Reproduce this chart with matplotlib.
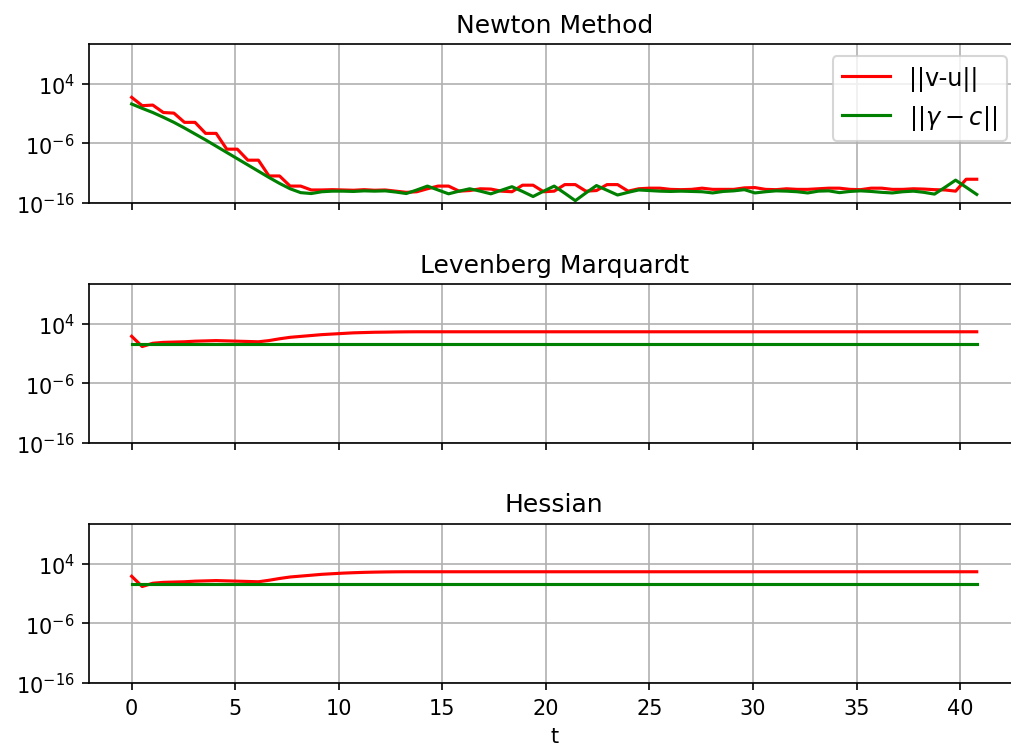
import numpy as np
import matplotlib.pyplot as plt

# time grid of the solver runs
t = np.linspace(0, 40.8, 81)

# log10 of the residual norms, Newton method
newton_vu_log = [1.75, 0.35, 0.45, -0.8, -0.9, -2.45, -2.45, -4.3, -4.3, -6.95,
                 -6.95, -8.8, -8.8, -11.45, -11.45, -13.15, -13.15, -13.8, -13.8, -13.75,
                 -13.8, -13.85, -13.75, -13.85, -13.8, -14.0, -14.2, -14.1, -13.6, -13.15,
                 -13.15, -14.0, -13.9, -13.6, -13.65, -14.0, -14.1, -13.0, -13.0, -14.1,
                 -14.0, -12.9, -12.9, -14.0, -13.9, -12.9, -12.9, -14.0, -13.6, -13.5,
                 -13.5, -13.7, -13.75, -13.7, -13.5, -13.7, -13.7, -13.7, -13.45, -13.4,
                 -13.7, -13.75, -13.6, -13.7, -13.7, -13.6, -13.5, -13.5, -13.7, -13.75,
                 -13.5, -13.5, -13.7, -13.7, -13.6, -13.65, -13.75, -13.8, -14.0, -12.0,
                 -12.0]
newton_gc_log = [0.63, -0.1, -0.8, -1.6, -2.45, -3.4, -4.4, -5.4, -6.45, -7.5,
                 -8.55, -9.6, -10.65, -11.7, -12.7, -13.6, -14.25, -14.4, -14.1, -14.0,
                 -14.0, -14.05, -13.95, -14.0, -13.95, -14.15, -14.4, -13.8, -13.15, -13.8,
                 -14.45, -14.0, -13.6, -14.0, -14.45, -13.85, -13.25, -14.05, -14.9, -14.0,
                 -13.15, -14.35, -15.6, -14.3, -13.06, -13.85, -14.65, -14.2, -13.8, -13.9,
                 -14.0, -14.05, -14.0, -14.05, -14.1, -14.3, -14.05, -13.95, -13.75, -14.3,
                 -14.1, -13.95, -14.0, -14.1, -14.3, -14.0, -13.95, -14.25, -14.05, -13.95,
                 -14.05, -14.2, -14.3, -14.1, -14.0, -14.2, -14.5, -13.35, -12.15, -13.35,
                 -14.55]

# Levenberg Marquardt
lm_vu_log = [1.92, 0.2, 0.75, 0.9, 0.95, 1.0, 1.1, 1.15, 1.2, 1.15,
             1.1, 1.05, 1.0, 1.2, 1.5, 1.75, 1.9, 2.05, 2.2, 2.3,
             2.4, 2.5, 2.55, 2.6, 2.62, 2.65, 2.67] + [2.68] * 54
lm_gc_log = [0.7] * 81

# Hessian
hess_vu_log = [1.92, 0.2, 0.75, 0.9, 0.95, 1.0, 1.1, 1.15, 1.2, 1.15,
               1.1, 1.05, 1.0, 1.25, 1.55, 1.8, 1.95, 2.1, 2.25, 2.35,
               2.45, 2.52, 2.58, 2.62, 2.65, 2.67, 2.68] + [2.68] * 54
hess_gc_log = [0.7] * 81

runs = [('Newton Method', newton_vu_log, newton_gc_log),
        ('Levenberg Marquardt', lm_vu_log, lm_gc_log),
        ('Hessian', hess_vu_log, hess_gc_log)]

fig, axes = plt.subplots(3, 1, sharex=True, figsize=(1011 / 150, 753 / 150), dpi=150)
# axes run slightly past the right edge of the canvas
fig.subplots_adjust(left=89.4 / 1011, right=1019 / 1011, bottom=0.0916, top=0.9402, hspace=0.509)

for ax, (title, vu, gc) in zip(axes, runs):
    ax.plot(t, 10.0 ** np.array(vu), 'r', label='||v-u||')
    ax.plot(t, 10.0 ** np.array(gc), 'g', label=r'$||\gamma - c||$')
    ax.set_yscale('log')
    ax.set_ylim(1e-16, 5e10)
    ax.set_yticks([1e-16, 1e-6, 1e4])
    ax.minorticks_off()
    ax.set_title(title)
    ax.grid(True)

axes[0].legend(loc='upper right', fontsize=11.5)
axes[2].set_xlabel('t')

plt.savefig('out.png', dpi=150)
